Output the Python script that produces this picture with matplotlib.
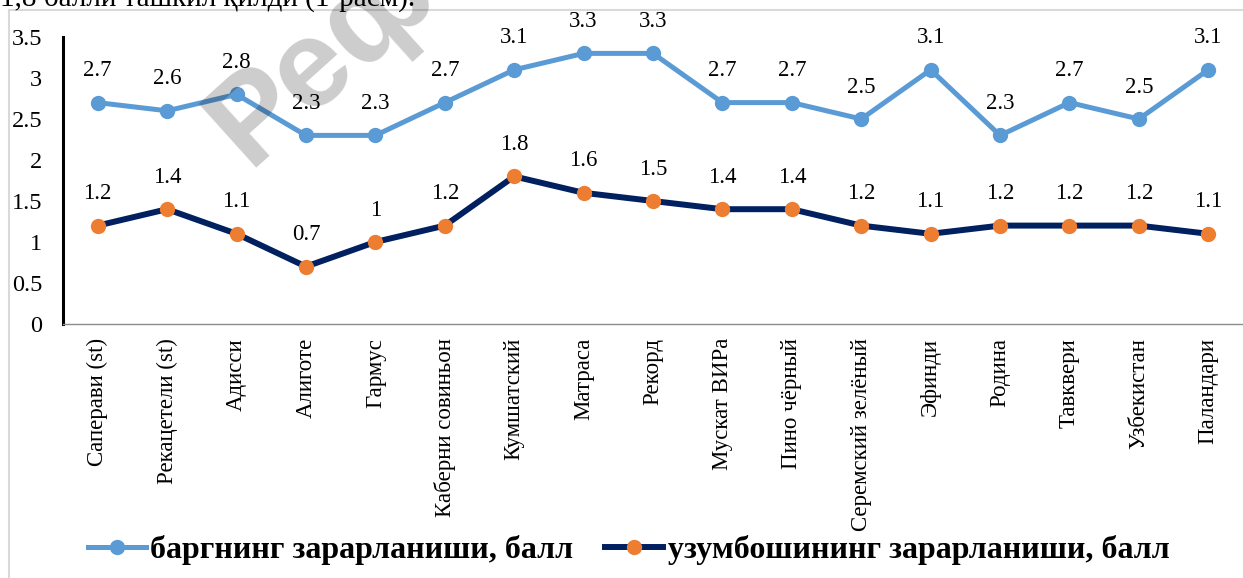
import matplotlib.pyplot as plt
from matplotlib.lines import Line2D

plt.rcParams['font.family'] = ['Liberation Serif', 'DejaVu Serif']

# данные
varieties = ['Саперави (st)', 'Рекацетели (st)', 'Адисси', 'Алиготе', 'Гармус',
             'Каберни совиньон', 'Кумшатский', 'Матраса', 'Рекорд', 'Мускат ВИРа',
             'Пино чёрный', 'Серемский зелёный', 'Эфинди', 'Родина', 'Тавквери',
             'Узбекистан', 'Паландари']
leaf_damage = [2.7, 2.6, 2.8, 2.3, 2.3, 2.7, 3.1, 3.3, 3.3, 2.7, 2.7, 2.5, 3.1, 2.3, 2.7, 2.5, 3.1]
bunch_damage = [1.2, 1.4, 1.1, 0.7, 1, 1.2, 1.8, 1.6, 1.5, 1.4, 1.4, 1.2, 1.1, 1.2, 1.2, 1.2, 1.1]
leaf_label = 'баргнинг зарарланиши, балл'
bunch_label = 'узумбошининг зарарланиши, балл'
yticks = [0, 0.5, 1, 1.5, 2, 2.5, 3, 3.5]

W, H = 1243, 578
fig = plt.figure(figsize=(W / 100, H / 100), dpi=100)
ax = fig.add_axes([63 / W, 1 - 324 / H, 1 - 63 / W, (324 - 37) / H])

x = list(range(len(varieties)))
ax.plot(x, leaf_damage, color='#5B9BD5', lw=3.6, marker='o', ms=10,
        mfc='#5B9BD5', mec='#5B9BD5', label=leaf_label, zorder=3)
ax.plot(x, bunch_damage, color='#002060', lw=4.3, marker='o', ms=10,
        mfc='#ED7D31', mec='#ED7D31', label=bunch_label, zorder=3)

for i, v in enumerate(leaf_damage):
    ax.annotate(f'{v:g}', (i, v), xytext=(0, 23), textcoords='offset points',
                ha='center', va='center', fontsize=16.5)
for i, v in enumerate(bunch_damage):
    arrow = None
    if i == 15:  # выносная линия у Узбекистан
        arrow = dict(arrowstyle='-', color='#a6a6a6', lw=1, shrinkA=9, shrinkB=4)
    ax.annotate(f'{v:g}', (i, v), xytext=(0, 23), textcoords='offset points',
                ha='center', va='center', fontsize=16.5, arrowprops=arrow)

ax.set_xlim(-0.5, len(varieties) - 0.5)
ax.set_ylim(0, 3.5)
ax.set_yticks(yticks)
ax.set_yticklabels([f'{t:g}' for t in yticks])
ax.set_xticks(x)
ax.set_xticklabels(varieties, rotation=90, va='top')
ax.tick_params(axis='y', length=0, pad=15, labelsize=17.5)
ax.tick_params(axis='x', length=0, pad=10, labelsize=16.5)
for s in ['top', 'right']:
    ax.spines[s].set_visible(False)
ax.spines['left'].set_color('black')
ax.spines['left'].set_linewidth(2.2)
ax.spines['bottom'].set_color('#8c8c8c')
ax.spines['bottom'].set_linewidth(1)

fig.legend(loc='center left', bbox_to_anchor=(88 / W, 1 - 550 / H), ncol=2,
           frameon=False, borderpad=0, borderaxespad=0, handlelength=1.8,
           handletextpad=0.15, columnspacing=1.0, numpoints=1,
           prop={'family': ['Liberation Serif'], 'weight': 'bold', 'size': 23})

# рамка диаграммы
fig.add_artist(Line2D([9 / W, 9 / W], [0, 1 - 10 / H], color='#d9d9d9', lw=1.5))
fig.add_artist(Line2D([9 / W, 1], [1 - 10 / H, 1 - 10 / H], color='#d9d9d9', lw=1.5))

# обрезанная строка текста сверху
fig.text(0, 1 - 6 / H, '1,8 балли ташкил қилди (1-расм).', fontsize=21,
         ha='left', va='baseline')

# водяной знак
fig.text(248 / W, 1 - 168 / H, 'Реферат', fontsize=90, fontweight='bold',
         family=['Liberation Sans', 'DejaVu Sans'], color='black', alpha=0.2,
         rotation=42, rotation_mode='anchor', ha='left', va='baseline', zorder=10)

fig.savefig('out.png', dpi=100)
